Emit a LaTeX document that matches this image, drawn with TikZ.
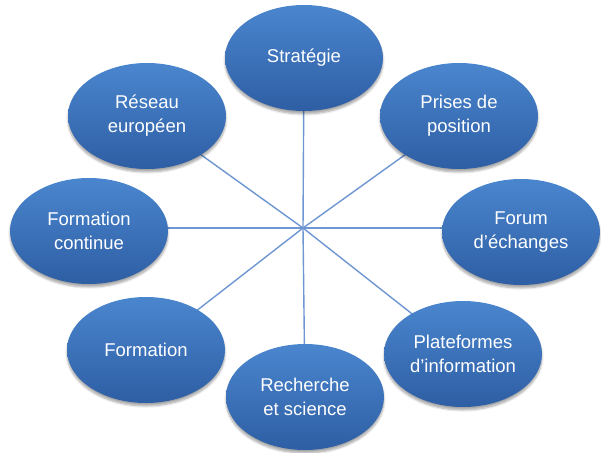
\documentclass[tikz,border=0pt]{standalone}
\usepackage{fontspec}
\setmainfont{Liberation Sans}
\usetikzlibrary{shapes.geometric,shadows.blur}
\definecolor{bltop}{RGB}{74,134,206}
\definecolor{blbot}{RGB}{46,94,164}
\definecolor{linec}{RGB}{110,150,210}
\tikzset{
  bubble/.style={ellipse, minimum width=158pt, minimum height=106pt, inner sep=0pt,
    top color=bltop, bottom color=blbot, draw=none,
    blur shadow={shadow xshift=0pt, shadow yshift=-3pt, shadow blur steps=6, shadow opacity=35},
    text=white, align=center, font=\fontsize{18.5}{24}\selectfont},
  spoke/.style={draw=linec, line width=1.4pt}
}
\begin{document}
\begin{tikzpicture}[x=1pt,y=-1pt]
\useasboundingbox (0,0) rectangle (601,452);
\coordinate (c) at (303,228);
\coordinate (p1) at (304,58);
\coordinate (p2) at (459,116);
\coordinate (p3) at (521,232);
\coordinate (p4) at (463,354);
\coordinate (p5) at (305,397);
\coordinate (p6) at (146,350);
\coordinate (p7) at (89,231);
\coordinate (p8) at (147,116);
\foreach \p in {p1,p2,p4,p5,p6,p8} \draw[spoke] (c) -- (\p);
\draw[spoke] (c) -- (c -| p3);
\draw[spoke] (c) -- (c -| p7);
\node[bubble] (strat) at (p1) {Stratégie};
\node[bubble] (prises) at (p2) {Prises de\\position};
\node[bubble] (forum) at (p3) {Forum\\d'échanges};
\node[bubble] (plat) at (p4) {Plateformes\\d'information};
\node[bubble] (rech) at (p5) {Recherche\\et science};
\node[bubble] (form) at (p6) {Formation};
\node[bubble] (fcont) at (p7) {Formation\\continue};
\node[bubble] (reseau) at (p8) {Réseau\\européen};
\end{tikzpicture}
\end{document}
